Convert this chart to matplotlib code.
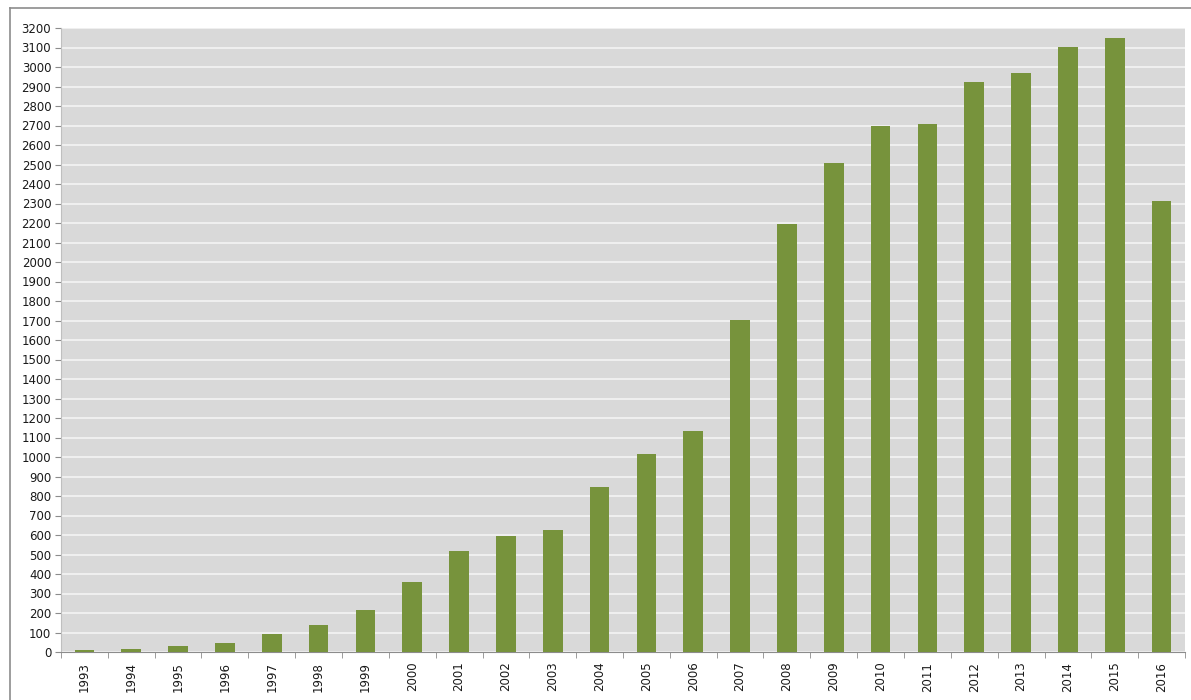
import matplotlib.pyplot as plt
from matplotlib.lines import Line2D
import numpy as np

years = [str(y) for y in range(1993, 2017)]
counts = [8, 15, 32, 45, 92, 138, 216, 358, 516, 596, 624, 845, 1017, 1133,
          1701, 2197, 2506, 2697, 2708, 2925, 2969, 3101, 3149, 2315]

fig = plt.figure(figsize=(11.91, 7.0), dpi=100)
fig.patch.set_facecolor("white")

# outer frame (top/left edges of the chart box)
fig.add_artist(Line2D([10 / 1191, 1.0], [1 - 8 / 700, 1 - 8 / 700],
                      color="#8c8c8c", lw=1.2, transform=fig.transFigure))
fig.add_artist(Line2D([10 / 1191, 10 / 1191], [0.0, 1 - 8 / 700],
                      color="#8c8c8c", lw=1.2, transform=fig.transFigure))

left, right, top, bottom = 61, 1185, 28, 652
ax = fig.add_axes([left / 1191, 1 - bottom / 700,
                   (right - left) / 1191, (bottom - top) / 700])
ax.set_facecolor("#d9d9d9")

x = np.arange(len(years))
ax.bar(x, counts, width=0.42, color="#77933c", zorder=3)

ax.set_xlim(-0.5, len(years) - 0.5)
ax.set_ylim(0, 3200)
ax.set_yticks(range(0, 3201, 100))
ax.yaxis.grid(True, color="#f4f4f4", lw=1.2, zorder=1)
ax.set_axisbelow(True)

ax.set_xticks(x)
ax.set_xticklabels(years, rotation=90, fontsize=8.5, color="#1a1a1a")
ax.set_xticks(np.arange(-0.5, len(years), 1.0), minor=True)
ax.tick_params(axis="x", which="major", length=0, pad=7)
ax.tick_params(axis="x", which="minor", length=4, color="#8c8c8c", direction="out")
ax.tick_params(axis="y", length=4, color="#8c8c8c", labelsize=8.5, labelcolor="#1a1a1a", pad=3)

for s in ["top", "right"]:
    ax.spines[s].set_visible(False)
ax.spines["left"].set_color("#bfbfbf")
ax.spines["bottom"].set_color("#8c8c8c")

fig.savefig("out.png", dpi=100)
